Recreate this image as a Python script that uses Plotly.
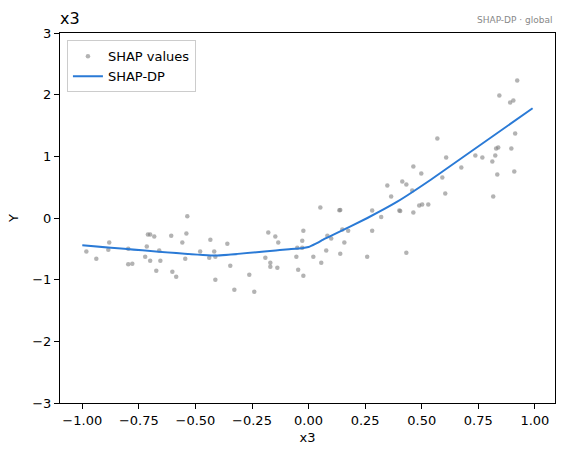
import plotly.graph_objects as go

# SHAP values (scatter)
shap_x = [-0.982, -0.938, -0.881, -0.885, -0.797, -0.797, -0.779, -0.715, -0.710, -0.700,
          -0.682, -0.722, -0.700, -0.660, -0.655, -0.673, -0.607, -0.602, -0.585, -0.558,
          -0.540, -0.545, -0.536,
          -0.434, -0.479, -0.417, -0.439, -0.412, -0.412, -0.359, -0.346, -0.328, -0.262,
          -0.240, -0.178, -0.147, -0.134, -0.191, -0.169, -0.169, -0.138, -0.046, -0.023,
          -0.054, -0.050, -0.028, -0.028, -0.023,
          0.021, 0.056, 0.052, 0.078, 0.083, 0.100, 0.140, 0.136, 0.140, 0.149, 0.158, 0.175,
          0.259, 0.281, 0.281, 0.321, 0.348, 0.365, 0.401, 0.405, 0.414, 0.432, 0.432, 0.458,
          0.463, 0.463, 0.489, 0.502, 0.498, 0.529,
          0.569, 0.608, 0.591, 0.604, 0.675, 0.737, 0.768, 0.812, 0.816, 0.825, 0.829, 0.838,
          0.834, 0.843, 0.891, 0.905, 0.896, 0.913, 0.909, 0.922]
shap_y = [-0.545, -0.659, -0.399, -0.513, -0.497, -0.752, -0.740, -0.464, -0.269, -0.269,
          -0.302, -0.627, -0.692, -0.529, -0.692, -0.854, -0.286, -0.870, -0.951, -0.399,
          -0.253, -0.659, 0.028,
          -0.351, -0.545, -0.545, -0.643, -0.627, -1.000, -0.416, -0.773, -1.162, -0.919,
          -1.195, -0.237, -0.302, -0.399, -0.643, -0.724, -0.789, -0.805, -0.838, -0.935,
          -0.627, -0.482, -0.482, -0.367, -0.205,
          -0.627, -0.724, 0.169, -0.529, -0.286, -0.334, 0.130, 0.125, -0.578, -0.188, -0.399, -0.205,
          -0.627, 0.120, -0.205, 0.016, 0.526, 0.347, 0.120, 0.115, 0.591, 0.542, -0.562, 0.445,
          0.834, 0.088, 0.201, 0.218, 0.721, 0.218,
          1.289, 0.981, 0.656, 0.396, 0.818, 1.013, 0.981, 0.916, 0.347, 1.013, 1.127, 1.143,
          0.705, 1.987, 1.873, 1.906, 1.127, 1.370, 0.753, 2.231]

# SHAP-DP curve
dp_x = [-1.0, -0.41, -0.10, -0.03, 0.0, 0.03, 0.07, 0.11, 0.26, 0.39, 0.54, 0.99]
dp_y = [-0.44, -0.61, -0.51, -0.49, -0.47, -0.42, -0.34, -0.27, 0.0, 0.26, 0.62, 1.78]

x_ticks = [-1.0, -0.75, -0.5, -0.25, 0.0, 0.25, 0.5, 0.75, 1.0]
y_ticks = [-3, -2, -1, 0, 1, 2, 3]

FONT = "DejaVu Sans"

fig = go.Figure()
fig.add_trace(go.Scatter(x=shap_x, y=shap_y, mode="markers", name="SHAP values",
                         marker=dict(size=4.5, color="rgba(128,128,128,0.6)", line=dict(width=0))))
fig.add_trace(go.Scatter(x=dp_x, y=dp_y, mode="lines", name="SHAP-DP",
                         line=dict(color="#2a7ad6", width=2, shape="spline", smoothing=0.3)))

axis_common = dict(showgrid=False, zeroline=False, showline=True, mirror=True,
                   linecolor="black", linewidth=1, ticks="outside", ticklen=5,
                   tickwidth=1, tickcolor="black",
                   tickfont=dict(family=FONT, size=13, color="black"))

fig.update_layout(
    width=565, height=455,
    margin=dict(l=60, r=10, t=33, b=52),
    paper_bgcolor="white", plot_bgcolor="white",
    font=dict(family=FONT, size=13, color="black"),
    showlegend=True,
    legend=dict(x=0.014, y=0.98, xanchor="left", yanchor="top",
                bgcolor="rgba(255,255,255,0.8)", bordercolor="#cccccc", borderwidth=1,
                font=dict(family=FONT, size=13), tracegroupgap=0),
    xaxis=dict(range=[-1.0985, 1.089], tickvals=x_ticks, tickformat=".2f",
               title=dict(text="x3", font=dict(family=FONT, size=13), standoff=6),
               **axis_common),
    yaxis=dict(range=[-3, 3], tickvals=y_ticks,
               title=dict(text="Y", font=dict(family=FONT, size=13), standoff=10),
               **axis_common),
    annotations=[
        dict(text="x3", x=0, y=1, xref="paper", yref="paper", xanchor="left",
             yanchor="bottom", yshift=3, xshift=-2, showarrow=False,
             font=dict(family=FONT, size=16, color="black")),
        dict(text="SHAP-DP · global", x=1, y=1, xref="paper", yref="paper",
             xanchor="right", yanchor="bottom", yshift=6, showarrow=False,
             font=dict(family=FONT, size=9, color="#888888")),
    ],
)

fig.write_html("out.html")
